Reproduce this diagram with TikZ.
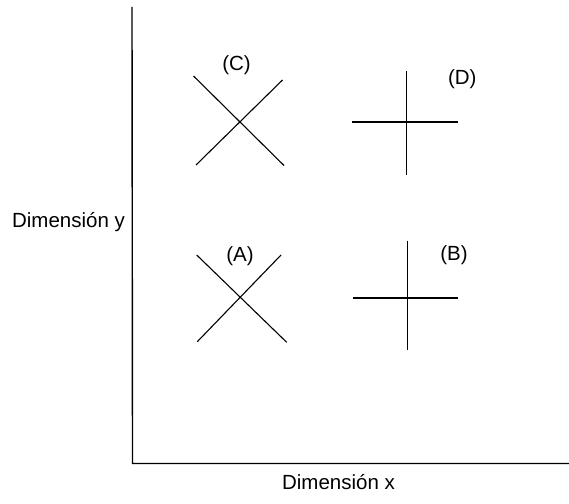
\documentclass[tikz,border=0pt]{standalone}
\usepackage{fontspec}
\setmainfont{Liberation Sans}
\begin{document}
\begin{tikzpicture}[x=1pt,y=-1pt,
  axisline/.style={line width=1.4pt},
  markline/.style={line width=1.1pt},
  lbl/.style={inner sep=0pt,font=\fontsize{20.5}{24}\selectfont}]
\useasboundingbox (0,0) rectangle (569,503);
% axes
\coordinate (top) at (132,7);
\coordinate (orig) at (132.5,463.5);
\coordinate (right) at (569,463.5);
\draw[axisline] (top) -- (orig) -- (right);
\node[lbl] (ylab) at (68.5,222) {Dimensión y};
\node[lbl] (xlab) at (338.5,482) {Dimensión x};
% C cross
\draw[markline] (193.5,76) -- (284,165.5);
\draw[markline] (282.5,80) -- (196,165);
\node[lbl] (lc) at (236.5,65) {(C)};
% D cross
\draw[markline] (406.7,70.5) -- (406.7,175);
\draw[markline] (352.3,122) -- (458.3,122);
\node[lbl] (ld) at (462.3,79.5) {(D)};
% A cross
\draw[markline] (196.7,255) -- (286.7,342.3);
\draw[markline] (281,255) -- (197.3,341.7);
\node[lbl] (la) at (240,256) {(A)};
% B cross
\draw[markline] (407.7,240.7) -- (407.7,350);
\draw[markline] (353.3,298) -- (458.3,298);
\node[lbl] (lb) at (454,255.5) {(B)};
\end{tikzpicture}
\end{document}
